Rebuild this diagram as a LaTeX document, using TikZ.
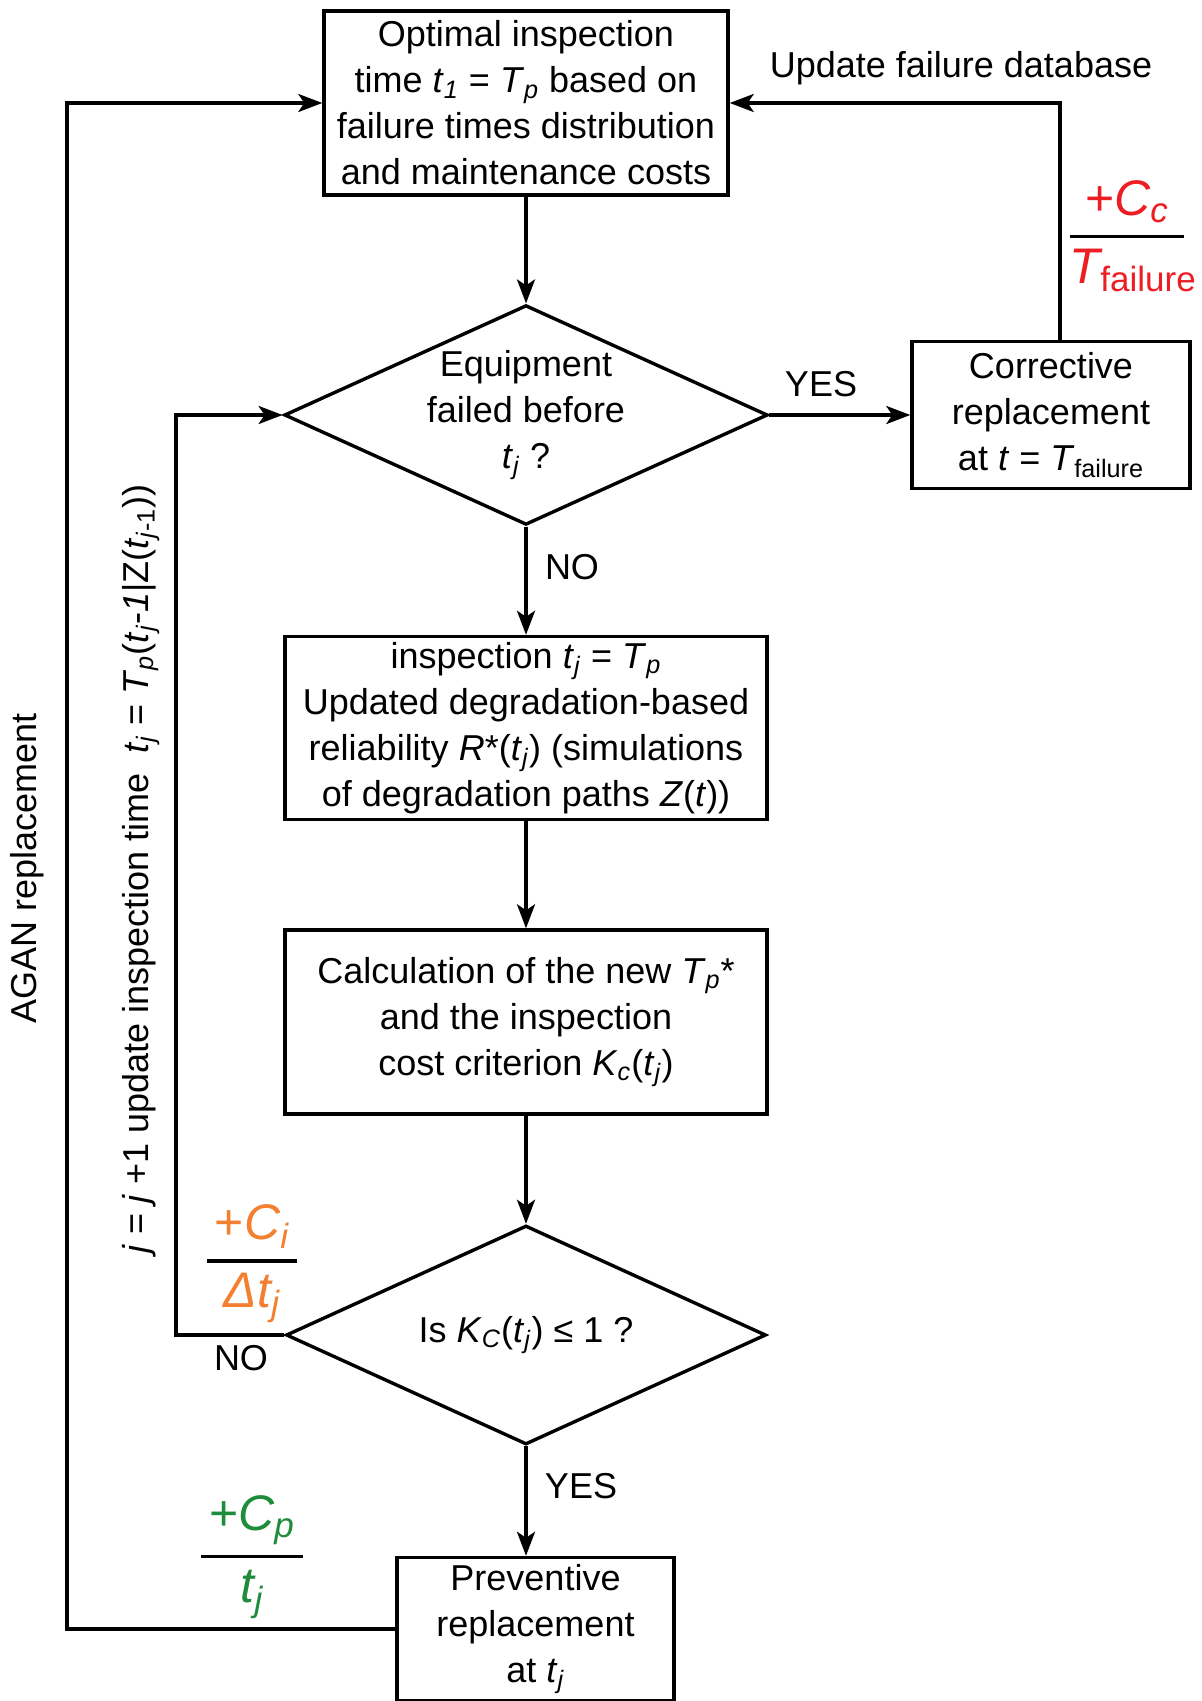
\documentclass[tikz,border=0pt]{standalone}
\usepackage{amsmath}
\usepackage{fontspec}
\setmainfont{Liberation Sans}
\usepackage{xcolor}
\usepackage{tikz}
\usetikzlibrary{shapes.geometric,arrows.meta}
\definecolor{costred}{RGB}{236,30,36}
\definecolor{costorange}{RGB}{242,128,48}
\definecolor{costgreen}{RGB}{30,140,58}
\newcommand{\iv}[1]{\textit{#1}}
\newcommand{\sub}[1]{\textsubscript{#1}}
\newcommand{\costfrac}[3]{$\genfrac{}{}{1.6pt}{0}{\,\textcolor{#1}{#2}\,}{\,\textcolor{#1}{#3}\,}$}

\begin{document}
\begin{tikzpicture}[x=0.5pt,y=-0.5pt,
    font=\fontsize{18}{23}\selectfont,
    box/.style={draw,line width=1.7pt,align=center,inner sep=0pt},
    decision/.style={draw,diamond,aspect=2.2,line width=1.7pt,align=center,inner sep=0pt,
        minimum width=240pt,minimum height=109.5pt},
    flow/.style={line width=1.7pt,-{Stealth[length=12pt,width=9pt,inset=3pt]}},
    cost/.style={font=\fontsize{25}{29}\selectfont}]
    \useasboundingbox (0,0) rectangle (1202,1701);

    \node[box,minimum width=202pt,minimum height=92pt] (top) at (526,103)
        {Optimal inspection\\time \iv{t}\sub{\iv{1}} = \iv{T}\sub{\iv{p}} based on\\failure times distribution\\and maintenance costs};
    \node[decision] (failed) at (526,415)
        {Equipment\\failed before\\\iv{t}\sub{\iv{j}} ?};
    \node[box,minimum width=139pt,minimum height=73.5pt] (corr) at (1051,415)
        {Corrective\\replacement\\at \iv{t} = \iv{T}\sub{failure}};
    \node[box,minimum width=241pt,minimum height=91.5pt] (insp) at (526,728)
        {inspection \iv{t}\sub{\iv{j}} = \iv{T}\sub{\iv{p}}\\Updated degradation-based\\reliability \iv{R}*(\iv{t}\sub{\iv{j}}) (simulations\\of degradation paths \iv{Z}(\iv{t}))};
    \node[box,minimum width=241pt,minimum height=92pt] (calc) at (526,1022)
        {Calculation of the new \iv{T}\sub{\iv{p}}*\\and the inspection\\cost criterion \iv{K}\sub{\iv{c}}(\iv{t}\sub{\iv{j}})};
    \node[decision] (crit) at (526,1335)
        {Is \iv{K}\sub{\iv{C}}(\iv{t}\sub{\iv{j}}) ≤ 1 ?};
    \node[box,minimum width=138.5pt,minimum height=71.5pt] (prev) at (535.5,1629)
        {Preventive\\replacement\\at \iv{t}\sub{\iv{j}}};

    \coordinate (agan) at (67,103);
    \coordinate (loop) at (176,415);
    \coordinate (upd) at (1060,103);

    \draw[flow] (top) -- (failed);
    \draw[flow] (failed) -- (insp);
    \draw[flow] (insp) -- (calc);
    \draw[flow] (calc) -- (crit);
    \draw[flow] (crit.south) -- (crit.south |- prev.north);
    \draw[flow] (failed.east) -- (corr.west);
    \draw[flow] (corr.north -| upd) -- (upd) -- (top.east);
    \draw[flow] (crit.west) -| (loop) -- (failed.west);
    \draw[flow] (prev.west) -| (agan) -- (top.west);

    \node (yes1) at (821,384) {YES};
    \node (no1) at (572,567) {NO};
    \node (yes2) at (581,1486) {YES};
    \node (no2) at (241,1358) {NO};
    \node (dbase) at (961,68) {Update failure database};

    \node[cost] (cc) at (1127,236)
        {$\genfrac{}{}{1.6pt}{0}{\textcolor{costred}{\text{+}\iv{C}_{\iv{c}}}}{\makebox[0.9\width][l]{\color{costred}$\iv{T}_{\text{failure}}$}}$};
    \node[cost] (ci) at (252,1264)
        {\costfrac{costorange}{\text{+}\iv{C}_{\iv{i}}}{\iv{Δt}_{\iv{j}}}};
    \node[cost] (cp) at (252,1557)
        {\costfrac{costgreen}{\text{+}\iv{C}_{\iv{p}}}{\iv{t}_{\iv{j}}}};

    \node[rotate=90] (aganlbl) at (27,868) {AGAN replacement};
    \node[rotate=90] (looplbl) at (141,869)
        {\iv{j} = \iv{j} +1 update inspection time\ \ \iv{t}\sub{\iv{j}} = \iv{T}\sub{\iv{p}}(\iv{t}\sub{\iv{j}}-\iv{1}|Z(\iv{t}\sub{\iv{j}-1}))};
\end{tikzpicture}
\end{document}
